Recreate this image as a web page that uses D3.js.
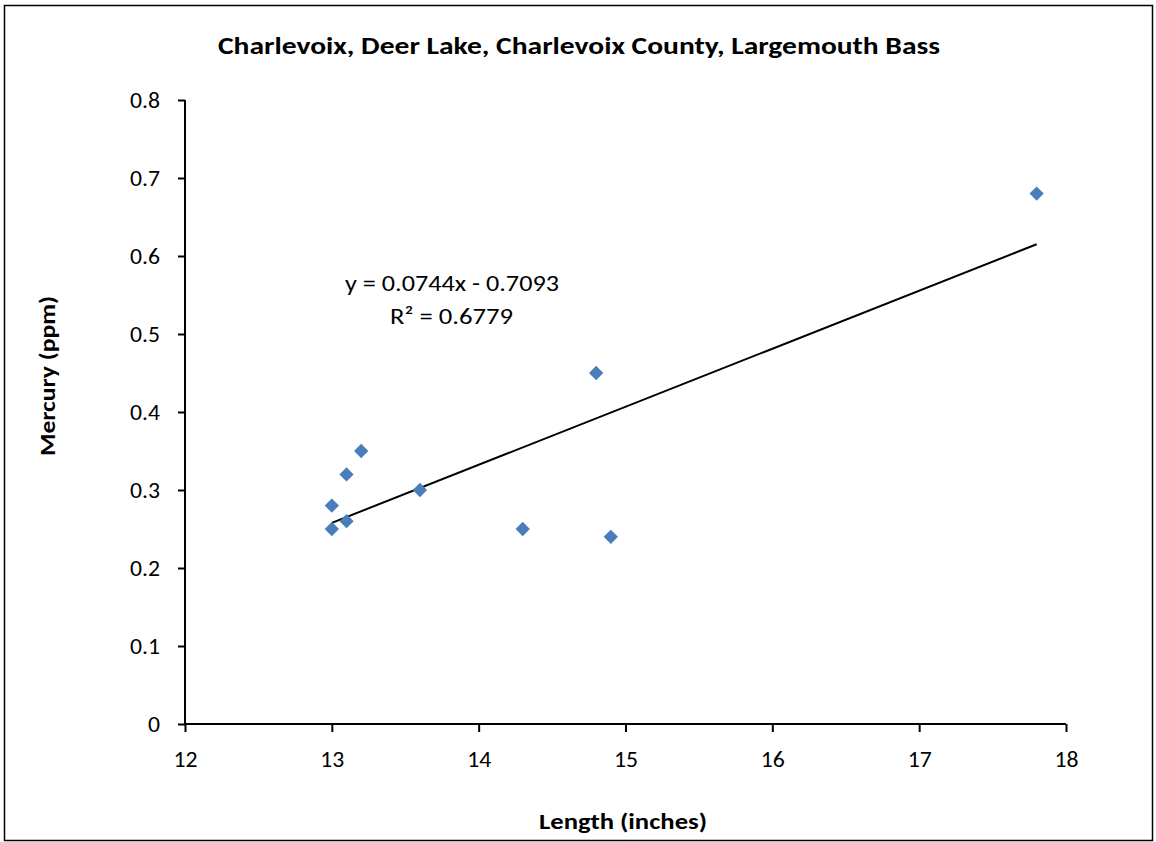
<!DOCTYPE html>
<html><head><meta charset="utf-8">
<script src="https://cdn.jsdelivr.net/npm/d3@7"></script>
<style>body{margin:0;background:#fff}text{font-family:Carlito,Calibri,Lato,"Open Sans",sans-serif}</style>
</head><body>
<svg id="c" width="1156" height="842"></svg>
<script>
const lengths = [13.0, 13.0, 13.1, 13.1, 13.2, 13.6, 14.3, 14.8, 14.9, 17.8];
const mercury = [0.28, 0.25, 0.32, 0.26, 0.35, 0.30, 0.25, 0.45, 0.24, 0.68];
const slope = 0.0744, intercept = -0.7093, r2 = 0.6779;
const xTicks = [12, 13, 14, 15, 16, 17, 18];
const yTicks = [0, 0.1, 0.2, 0.3, 0.4, 0.5, 0.6, 0.7, 0.8];
const title = "Charlevoix, Deer Lake, Charlevoix County, Largemouth Bass";

const svg = d3.select("#c");
svg.append("rect").attr("x",4.5).attr("y",5.5).attr("width",1148).attr("height",835)
  .attr("fill","#fff").attr("stroke","#000").attr("stroke-width",1.5);

const x = d3.scaleLinear().domain([12,18]).range([185,1066]);
const y = d3.scaleLinear().domain([0,0.8]).range([724,100]);

const xa = svg.append("g").attr("transform","translate(0,724)")
  .call(d3.axisBottom(x).tickValues(xTicks).tickSize(8).tickPadding(19).tickFormat(d3.format("d")));
const ya = svg.append("g").attr("transform","translate(185,0)")
  .call(d3.axisLeft(y).tickValues(yTicks).tickSize(7).tickPadding(18).tickFormat(d=>d===0?"0":d3.format(".1f")(d)));
[xa,ya].forEach(a=>{
  a.selectAll("path,line").attr("stroke","#000").attr("stroke-width",2);
  a.selectAll("text").attr("font-size",23).attr("fill","#000");
});
ya.select(".domain").attr("d","M0,100V724");
xa.select(".domain").attr("d","M185,0H1066");

// stretch tick labels horizontally to match reference widths
const ref = ya.selectAll("text").filter(function(){return this.textContent==="0.8";}).node();
const k = 30 / ref.getComputedTextLength();
[xa,ya].forEach(a=>a.selectAll("text").each(function(){
  const w=this.getComputedTextLength();
  d3.select(this).attr("textLength",w*k).attr("lengthAdjust","spacingAndGlyphs");
}));

// trendline
const xmin = d3.min(lengths), xmax = d3.max(lengths);
svg.append("line").attr("x1",x(xmin)).attr("y1",y(slope*xmin+intercept))
  .attr("x2",x(xmax)).attr("y2",y(slope*xmax+intercept))
  .attr("stroke","#000").attr("stroke-width",2);

// points
svg.append("g").selectAll("path").data(lengths.map((l,i)=>[l,mercury[i]])).join("path")
  .attr("d",d3.symbol(d3.symbolDiamond2,130)())
  .attr("transform",d=>`translate(${x(d[0])},${y(d[1])})`)
  .attr("fill","#4a7ebb");

function label(txt, xx, yy, fs, bold, len, rot){
  const t = svg.append("text").attr("text-anchor","middle").attr("font-size",fs)
    .attr("font-weight",bold?"bold":"normal").attr("textLength",len).attr("lengthAdjust","spacingAndGlyphs")
    .text(txt);
  if(rot) t.attr("transform",`translate(${xx},${yy}) rotate(-90)`);
  else t.attr("x",xx).attr("y",yy);
  return t;
}
label(title, 579, 54, 25, true, 722);
label("Length (inches)", 623, 829, 23, true, 168);
label("Mercury (ppm)", 55, 376, 23, true, 160, true);
label(`y = ${slope}x - ${Math.abs(intercept)}`, 452, 291, 23, false, 214);
label(`R² = ${r2}`, 451.5, 324, 23, false, 123);
</script></body></html>
